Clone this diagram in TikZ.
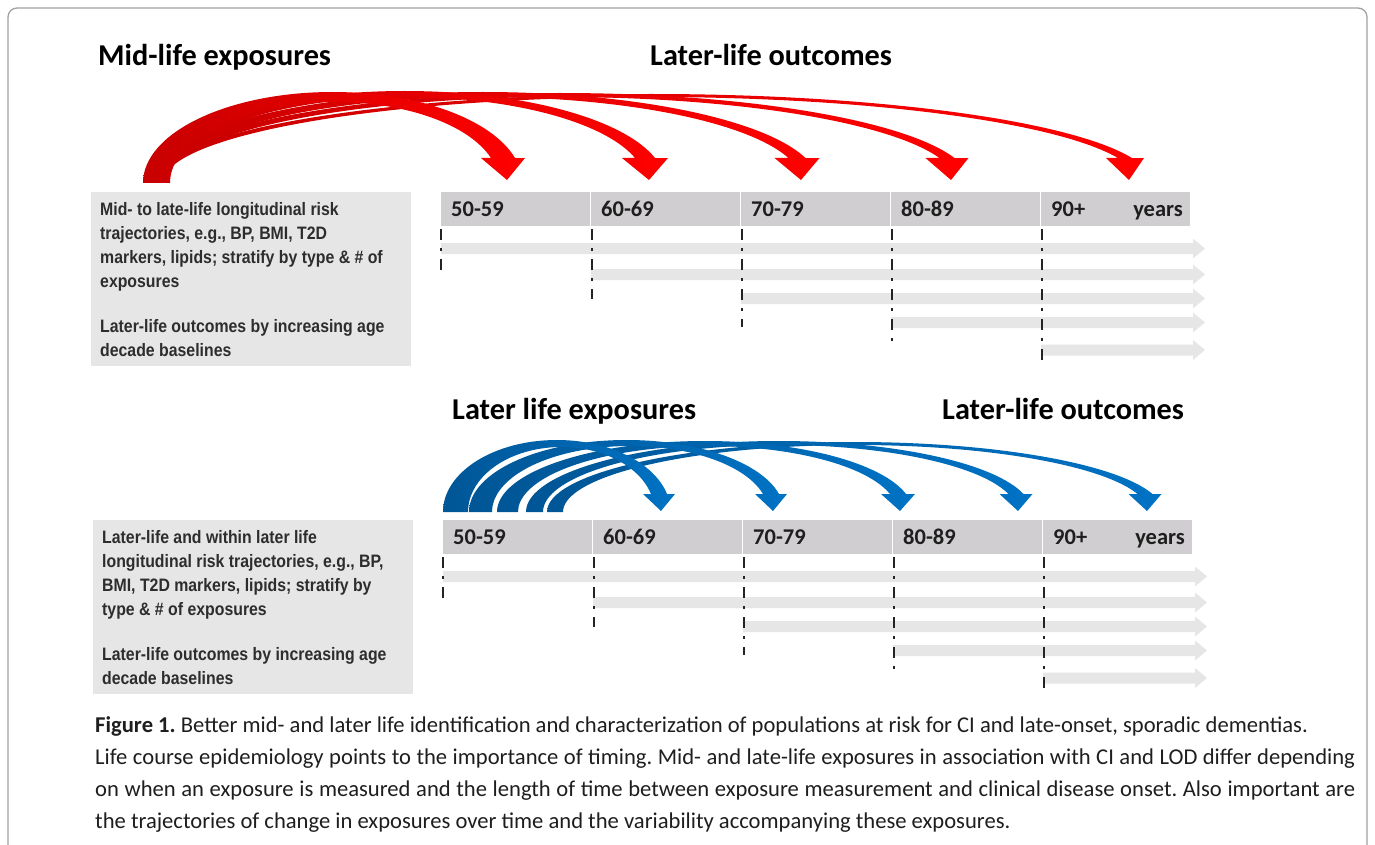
\documentclass[tikz,border=0pt]{standalone}
\usepackage{fontspec}
\setmainfont{Carlito}
\newfontfamily\boxfont[FakeStretch=0.88]{Liberation Sans}
\definecolor{textdark}{RGB}{30,30,30}
\definecolor{boxtextgray}{RGB}{45,45,45}
\definecolor{cellgray}{RGB}{208,206,208}
\definecolor{boxgray}{RGB}{230,230,230}
\definecolor{bargray}{RGB}{230,230,230}
\definecolor{tickblack}{RGB}{35,35,35}
\definecolor{framegray}{RGB}{160,160,160}
\definecolor{reddark}{RGB}{200,0,0}
\definecolor{redlight}{RGB}{255,0,0}
\definecolor{bluedark}{RGB}{0,86,150}
\definecolor{bluelight}{RGB}{0,114,196}
\frenchspacing
\begin{document}
\begin{tikzpicture}[x=1pt, y=-1pt,
  heading/.style={font=\bfseries\fontsize{30.3}{36}\selectfont, text=black, anchor=base west, inner sep=0pt},
  agecell/.style={fill=cellgray, minimum width=149pt, minimum height=34pt, text width=129pt,
                  inner xsep=10pt, inner ysep=0pt, align=left, anchor=north west,
                  font=\bfseries\fontsize{22.5}{26}\selectfont, text=textdark},
  infobox/.style={fill=boxgray, minimum width=320pt, minimum height=174pt, inner sep=0pt, anchor=north west},
  infotext/.style={align=left, inner sep=0pt, anchor=west,
                   font=\boxfont\bfseries\fontsize{18}{24}\selectfont, text=boxtextgray},
  tick/.style={tickblack, line width=2.4pt, dash pattern=on 11pt off 8pt on 2.5pt off 8.5pt},
  caption/.style={text width=1260pt, align=justify, inner sep=0pt, anchor=north west,
                  font=\fontsize{22.6}{32}\selectfont, text=textdark}]
\useasboundingbox (0,0) rectangle (1375,845);

% Cornice
\draw[framegray, line width=1.3pt, rounded corners=9pt] (8,850) -- (8,8) -- (1367,8) -- (1367,850);

% Due linee del tempo (sopra e sotto)
\foreach \dx/\dy in {0/0, 2/328} {
\begin{scope}[shift={(\dx,\dy)}]
  % intestazione con le decadi
  \foreach \lab [count=\i from 0] in {50-59, 60-69, 70-79, 80-89, 90+}
    \node[agecell] (cell-\dy-\i) at (441+150*\i,192) {\lab};
  \node[font=\bfseries\fontsize{22.5}{26}\selectfont, text=textdark, anchor=base east, inner sep=0pt]
    (years-\dy) at (1183,216.5) {years};

  % barre grigie a freccia
  \foreach \sx/\yy in {441/248.5, 591/274.5, 741/298.5, 891/322.5, 1041/350} {
    \fill[bargray] (\sx,\yy-5.5) -- (1193,\yy-5.5) -- (1193,\yy-10) -- (1205,\yy)
      -- (1193,\yy+10) -- (1193,\yy+5.5) -- (\sx,\yy+5.5) -- cycle;
  }

  % tratteggi verticali
  \foreach \tx/\ty in {441/270, 592/299, 742/327, 892/343, 1042/360}
    \draw[tick] (\tx,229) -- (\tx,\ty);

  % riquadro grigio a sinistra
  \node[infobox] (info-\dy) at (91,192) {};
\end{scope}
}

% Testi dei riquadri
\node[infotext] (info-top-text) at ([xshift=9pt]info-0.west) {Mid- to late-life longitudinal risk\\
  trajectories, e.g., BP, BMI, T2D\\
  markers, lipids; stratify by type \& \# of\\
  exposures\\[21pt]
  Later-life outcomes by increasing age\\
  decade baselines};
\node[infotext] (info-bottom-text) at ([xshift=9pt]info-328.west) {Later-life and within later life\\
  longitudinal risk trajectories, e.g., BP,\\
  BMI, T2D markers, lipids; stratify by\\
  type \& \# of exposures\\[21pt]
  Later-life outcomes by increasing age\\
  decade baselines};

% Titoli
\node[heading] (mid-exp) at (98,66) {Mid-life exposures};
\node[heading] (late-out-top) at (650,66) {Later-life outcomes};
\node[heading] (late-exp) at (452,419) {Later life exposures};
\node[heading] (late-out-bottom) at (942,419) {Later-life outcomes};

% Frecce curve rosse: coda/largh./testa/largh./cima/spessore/ala
\foreach \a/\wl/\hx/\wr/\yt/\h/\e in {151/12/1125/14/94/3/12, 149/15/947/15/93/4/14,
                                   147/18/797/17/92/5/14, 145/22/645/20/91/6/13,
                                   143/27/503/24/92/10/10} {
  \pgfmathsetmacro\ry{183-\yt}
  \pgfmathsetmacro\ryi{183-\yt-\h}
  \pgfmathsetmacro\po{asin(25/\ry)}
  \pgfmathsetmacro\phii{asin(25/\ryi)}
  \pgfmathsetmacro\eo{360-\po}
  \pgfmathsetmacro\si{-\phii}
  \pgfmathsetmacro\ro{(\hx+\wr/2-\a)/(1+cos(\po))}
  \pgfmathsetmacro\ri{(\hx-\wr/2-\a-\wl)/(1+cos(\phii))}
  \path[left color=reddark, right color=redlight]
    (\a,183) arc[start angle=180, end angle=\eo, x radius=\ro, y radius=\ry]
    -- ++(\e,0) -- (\hx+4,180) -- (\hx-\wr/2-\e,158) -- (\hx-\wr/2,158)
    arc[start angle=\si, end angle=-180, x radius=\ri, y radius=\ryi] -- cycle;
}

% Frecce curve blu
\foreach \a/\wl/\hx/\wr/\yt/\h/\e in {547/16/1145/15/442/3/9, 526/17/1016/15/441/4/9,
                                   497/21/898/16/441/5/9, 469/23/771/16/440/6/8,
                                   443/25/659/16/440/7/8} {
  \pgfmathsetmacro\ry{512-\yt}
  \pgfmathsetmacro\ryi{512-\yt-\h}
  \pgfmathsetmacro\po{asin(18/\ry)}
  \pgfmathsetmacro\phii{asin(18/\ryi)}
  \pgfmathsetmacro\eo{360-\po}
  \pgfmathsetmacro\si{-\phii}
  \pgfmathsetmacro\ro{(\hx+\wr/2-\a)/(1+cos(\po))}
  \pgfmathsetmacro\ri{(\hx-\wr/2-\a-\wl)/(1+cos(\phii))}
  \path[left color=bluedark, right color=bluelight]
    (\a,512) arc[start angle=180, end angle=\eo, x radius=\ro, y radius=\ry]
    -- ++(\e,0) -- (\hx+2,511) -- (\hx-\wr/2-\e,494) -- (\hx-\wr/2,494)
    arc[start angle=\si, end angle=-180, x radius=\ri, y radius=\ryi] -- cycle;
}

% Didascalia
\node[caption] (cap) at (95,716) {\textbf{Figure 1.} Better mid- and later life identification and characterization of populations at risk for CI and late-onset, sporadic dementias.\\
Life course epidemiology points to the importance of timing. Mid- and late-life exposures in association with CI and LOD differ depending\linebreak
on when an exposure is measured and the length of time between exposure measurement and clinical disease onset. Also important are\linebreak
the trajectories of change in exposures over time and the variability accompanying these exposures.};

\end{tikzpicture}
\end{document}
